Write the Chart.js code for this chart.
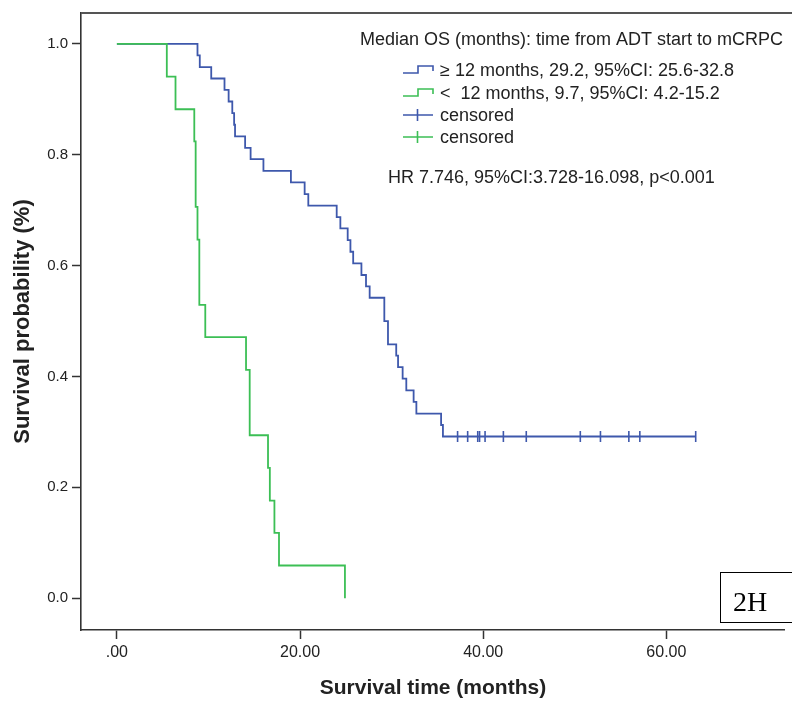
<!DOCTYPE html>
<html>
<head>
<meta charset="utf-8">
<script src="https://cdn.jsdelivr.net/npm/chart.js@4.4.1/dist/chart.umd.min.js"></script>
<style>
  html, body { margin: 0; padding: 0; background: #fff; }
  #wrap { width: 792px; height: 704px; }
</style>
</head>
<body>
<div id="wrap"><canvas id="km" width="792" height="704"></canvas></div>
<script>
// KM steps: time (months) and survival after the drop
const blueTimes = [0, 8.8, 9.05, 10.3, 11.75, 12.2, 12.6, 12.8, 12.9, 14.0, 14.6, 16.0, 19.0, 20.5, 20.9,
  24.0, 24.4, 25.2, 25.5, 25.8, 26.7, 27.2, 27.6, 29.2, 29.6, 30.5, 30.7, 31.2, 31.6, 32.4, 32.7, 35.4, 35.6];
const blueSurv = [1, 0.979, 0.958, 0.9375, 0.917, 0.896, 0.875, 0.854, 0.833, 0.8125, 0.792, 0.771, 0.75, 0.729, 0.708,
  0.6875, 0.667, 0.646, 0.625, 0.604, 0.583, 0.5625, 0.542, 0.5, 0.458, 0.4375, 0.417, 0.396, 0.375, 0.354, 0.333, 0.3125, 0.2917];
const blueCensored = [37.2, 38.3, 39.4, 39.6, 40.2, 42.2, 44.7, 50.6, 52.8, 55.9, 57.1, 63.2];

const greenTimes = [0, 5.45, 6.4, 8.45, 8.6, 8.8, 9.0, 9.65, 14.1, 14.5, 16.5, 16.7, 17.2, 17.7, 24.9];
const greenSurv = [1, 0.941, 0.882, 0.824, 0.706, 0.647, 0.529, 0.471, 0.412, 0.294, 0.235, 0.176, 0.118, 0.059, 0];

const xTicks = [0, 20, 40, 60];
const yTicks = [0, 0.2, 0.4, 0.6, 0.8, 1.0];

const legendTitle = 'Median OS (months): time from ADT start to mCRPC';
const legendRows = ['\u2265 12 months, 29.2, 95%CI: 25.6-32.8', '<  12 months, 9.7, 95%CI: 4.2-15.2', 'censored', 'censored'];
const hrText = 'HR 7.746, 95%CI:3.728-16.098, p<0.001';
const panelLabel = '2H';

const BLUE = '#3e58ac';
const GREEN = '#3cbf55';
const FONT = '"Liberation Sans", Arial, sans-serif';

function survAt(times, surv, t) {
  let s = surv[0];
  for (let i = 0; i < times.length; i++) if (times[i] <= t) s = surv[i];
  return s;
}

const bluePts = blueTimes.map((t, i) => ({x: t, y: blueSurv[i]}));
const lastCens = blueCensored[blueCensored.length - 1];
bluePts.push({x: lastCens, y: survAt(blueTimes, blueSurv, lastCens)});
const greenPts = greenTimes.map((t, i) => ({x: t, y: greenSurv[i]}));
const censPts = blueCensored.map(t => ({x: t, y: survAt(blueTimes, blueSurv, t)}));

const decor = {
  id: 'decor',
  afterDraw(chart) {
    const ctx = chart.ctx, a = chart.chartArea;
    ctx.save();
    // top frame line
    ctx.strokeStyle = '#555';
    ctx.lineWidth = 2;
    ctx.beginPath(); ctx.moveTo(a.left, a.top); ctx.lineTo(792, a.top); ctx.stroke();

    // legend block
    ctx.fillStyle = '#222';
    ctx.font = '18px ' + FONT;
    ctx.textBaseline = 'alphabetic';
    ctx.fillText(legendTitle, 360, 44.5);
    const rowY = [70, 93, 115, 137];
    const rowCol = [BLUE, GREEN, BLUE, GREEN];
    ctx.lineWidth = 1.6;
    rowY.forEach((c, i) => {
      ctx.strokeStyle = rowCol[i];
      ctx.beginPath();
      if (i < 2) {
        ctx.moveTo(403, c + 3); ctx.lineTo(418, c + 3); ctx.lineTo(418, c - 4);
        ctx.lineTo(433, c - 4); ctx.lineTo(433, c + 1);
      } else {
        ctx.moveTo(403, c); ctx.lineTo(433, c);
        ctx.moveTo(417.5, c - 6); ctx.lineTo(417.5, c + 6);
      }
      ctx.stroke();
      ctx.fillStyle = '#222';
      ctx.fillText(legendRows[i], 440, c + 6.4);
    });
    ctx.fillText(hrText, 388, 183.4);

    // panel tag
    ctx.fillStyle = '#fff';
    ctx.fillRect(720, 572, 80, 50);
    ctx.strokeStyle = '#000';
    ctx.lineWidth = 1;
    ctx.strokeRect(720.5, 572.5, 90, 50);
    ctx.fillStyle = '#000';
    ctx.font = '28px "Liberation Serif", "Times New Roman", serif';
    ctx.fillText(panelLabel, 733, 611);
    ctx.restore();
  }
};

new Chart(document.getElementById('km'), {
  type: 'line',
  data: {
    datasets: [
      {data: greenPts, borderColor: GREEN, borderWidth: 1.8, stepped: true, pointRadius: 0, fill: false, order: 0},
      {data: bluePts, borderColor: BLUE, borderWidth: 1.8, stepped: true, pointRadius: 0, fill: false, order: 1},
      {data: censPts, showLine: false, borderColor: BLUE, borderWidth: 1.6, pointStyle: 'line', rotation: 90,
        pointRadius: 5.5, order: 1}
    ]
  },
  options: {
    responsive: false,
    animation: false,
    layout: {padding: {top: 9, right: 0, left: 0, bottom: 0}},
    plugins: {legend: {display: false}, tooltip: {enabled: false}},
    scales: {
      x: {
        type: 'linear',
        min: -3.92,
        max: 72.94,
        afterBuildTicks: s => { s.ticks = xTicks.map(v => ({value: v})); },
        afterFit: s => { s.height = 74; },
        grid: {display: true, drawOnChartArea: false, drawTicks: true, tickLength: 9, color: '#333', tickWidth: 1.5},
        border: {display: true, color: '#333', width: 1.6},
        ticks: {
          padding: 4, color: '#222', font: {family: FONT, size: 16},
          maxRotation: 0,
          callback: v => v === 0 ? '.00' : v.toFixed(2)
        },
        title: {display: true, text: 'Survival time (months)', color: '#222',
          font: {family: FONT, size: 21, weight: 'bold'}, padding: {top: 0, bottom: 3.4}}
      },
      y: {
        min: -0.0573,
        max: 1.0556,
        afterBuildTicks: s => { s.ticks = yTicks.map(v => ({value: v})); },
        afterFit: s => { s.width = 81; },
        grid: {display: true, drawOnChartArea: false, drawTicks: true, tickLength: 9, color: '#333', tickWidth: 1.5},
        border: {display: true, color: '#333', width: 1.6},
        ticks: {padding: 4, color: '#222', font: {family: FONT, size: 15}, callback: v => v.toFixed(1)},
        title: {display: true, text: 'Survival probability (%)', color: '#222',
          font: {family: FONT, size: 22, weight: 'bold'}, padding: {top: 10, bottom: 0}}
      }
    }
  },
  plugins: [decor]
});
</script>
</body>
</html>
